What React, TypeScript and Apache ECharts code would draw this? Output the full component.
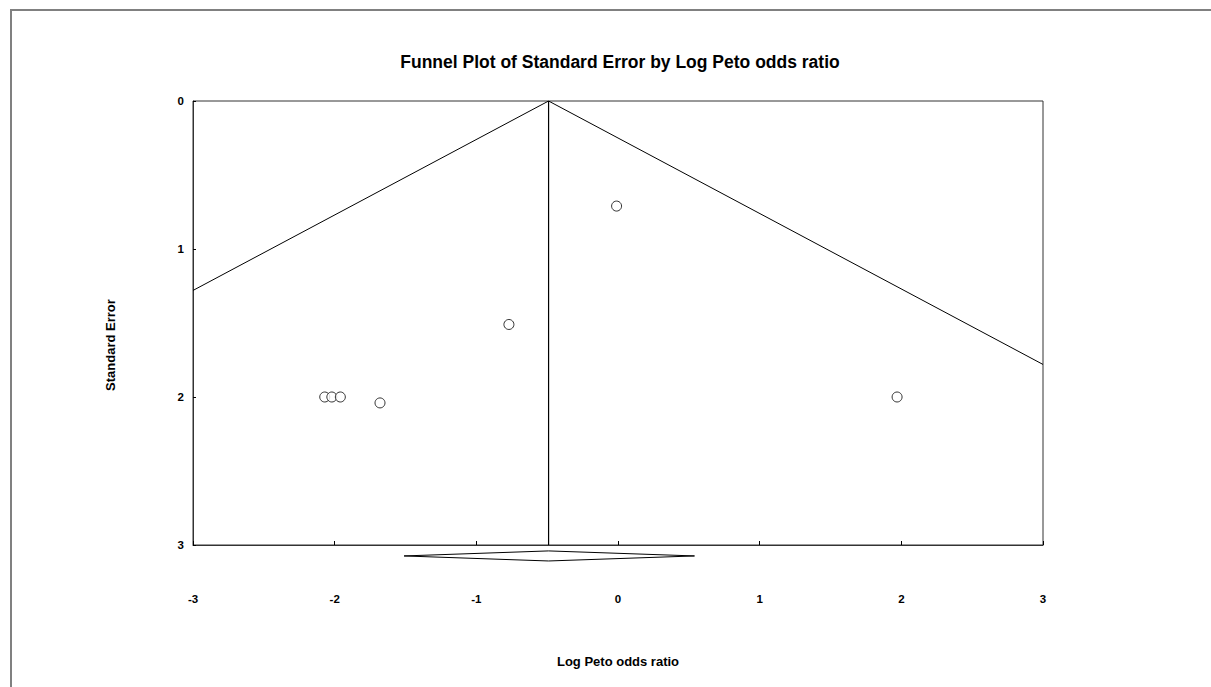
import React, { useEffect, useRef } from "react";
import * as echarts from "echarts";

const titleText = "Funnel Plot of Standard Error by Log Peto odds ratio";
const xAxisName = "Log Peto odds ratio";
const yAxisName = "Standard Error";

// studies: [log Peto odds ratio, standard error]
const studies: [number, number][] = [
  [-0.01, 0.71],
  [-0.77, 1.51],
  [-2.07, 2.0],
  [-2.02, 2.0],
  [-1.96, 2.0],
  [-1.68, 2.04],
  [1.97, 2.0],
];

const pooledLine: [number, number][] = [
  [-0.49, 0],
  [-0.49, 3],
];
// 95% pseudo-confidence limits
const funnelLines: [number, number][] = [
  [-3, 1.28],
  [-0.49, 0],
  [3, 1.78],
];
// summary diamond drawn beneath the axis
const diamond: [number, number][] = [
  [-1.51, 3.074],
  [-0.49, 3.04],
  [0.54, 3.074],
  [-0.49, 3.108],
  [-1.51, 3.074],
];

export default function App() {
  const ref = useRef<HTMLDivElement>(null);
  useEffect(() => {
    if (!ref.current) return;
    const chart = echarts.init(ref.current, undefined, { renderer: "svg" });
    const font = "'Liberation Sans', Arial, sans-serif";
    chart.setOption({
      animation: false,
      backgroundColor: "#ffffff",
      title: {
        text: titleText,
        left: 615,
        textAlign: "center",
        top: 48,
        textStyle: { fontFamily: font, fontSize: 17.5, fontWeight: "bold", color: "#000" },
      },
      graphic: [
        {
          type: "rect",
          shape: { x: 11, y: 10, width: 1400, height: 900 },
          style: { fill: "none", stroke: "#808080", lineWidth: 2 },
          silent: true,
        },
        {
          type: "text",
          x: 110,
          y: 345,
          rotation: Math.PI / 2,
          style: {
            text: yAxisName,
            fontFamily: font,
            fontSize: 13,
            fontWeight: "bold",
            fill: "#000",
            align: "center",
            verticalAlign: "middle",
          },
          silent: true,
        },
      ],
      grid: {
        left: 193,
        top: 101,
        width: 850,
        height: 444,
        show: true,
        borderColor: "#333",
        borderWidth: 1,
        backgroundColor: "transparent",
      },
      xAxis: {
        type: "value",
        min: -3,
        max: 3,
        interval: 1,
        position: "bottom",
        name: xAxisName,
        nameLocation: "middle",
        nameGap: 110,
        nameTextStyle: { fontFamily: font, fontSize: 13, fontWeight: "bold", color: "#000" },
        axisLine: { show: true, onZero: false, lineStyle: { color: "#333", width: 1 } },
        axisTick: { show: true, inside: true, length: 4, lineStyle: { color: "#000" } },
        axisLabel: {
          margin: 48,
          fontFamily: font,
          fontSize: 11.5,
          fontWeight: "bold",
          color: "#000",
          showMinLabel: true,
          showMaxLabel: true,
        },
        splitLine: { show: false },
      },
      yAxis: {
        type: "value",
        inverse: true,
        min: 0,
        max: 3,
        interval: 1,
        position: "left",
        axisLine: { show: true, onZero: false, lineStyle: { color: "#333", width: 1 } },
        axisTick: { show: true, inside: true, length: 3, lineStyle: { color: "#000" } },
        axisLabel: {
          margin: 9,
          fontFamily: font,
          fontSize: 11.5,
          fontWeight: "bold",
          color: "#000",
        },
        splitLine: { show: false },
      },
      series: [
        {
          type: "line",
          data: funnelLines,
          symbol: "none",
          lineStyle: { color: "#000", width: 1 },
          silent: true,
        },
        {
          type: "line",
          data: pooledLine,
          symbol: "none",
          lineStyle: { color: "#000", width: 1.2 },
          silent: true,
        },
        {
          type: "line",
          data: diamond,
          symbol: "none",
          clip: false,
          lineStyle: { color: "#000", width: 1 },
          silent: true,
        },
        {
          type: "scatter",
          data: studies,
          symbol: "circle",
          symbolSize: 10,
          itemStyle: { color: "#fff", borderColor: "#000", borderWidth: 1 },
        },
      ],
    });
    return () => chart.dispose();
  }, []);
  return (
    <div
      ref={ref}
      style={{ position: "fixed", left: 0, top: 0, width: 1211, height: 687 }}
    />
  );
}
